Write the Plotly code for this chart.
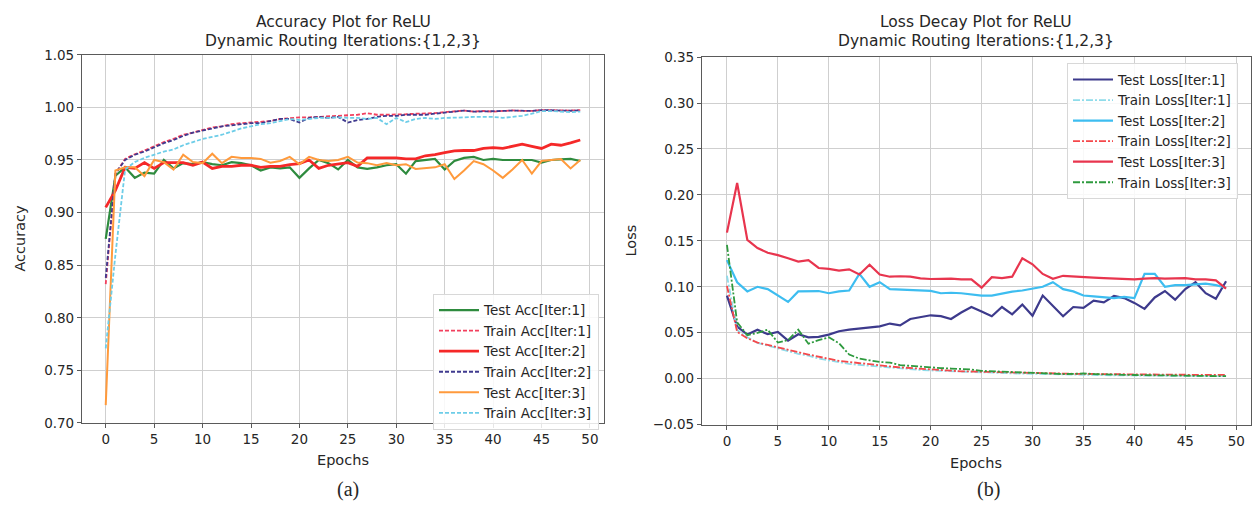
import plotly.graph_objects as go

epochs = list(range(50))

test_acc_1 = [0.875, 0.935, 0.943, 0.933, 0.938, 0.937, 0.950, 0.942, 0.947, 0.946,
              0.948, 0.946, 0.945, 0.948, 0.947, 0.945, 0.940, 0.943, 0.942, 0.943,
              0.933, 0.942, 0.950, 0.947, 0.941, 0.950, 0.943, 0.9415, 0.943, 0.945,
              0.946, 0.937, 0.949, 0.950, 0.951, 0.941, 0.949, 0.952, 0.953, 0.950,
              0.951, 0.950, 0.950, 0.9505, 0.950, 0.9475, 0.950, 0.9505, 0.951, 0.949]
train_acc_1 = [0.832, 0.937, 0.951, 0.9555, 0.959, 0.963, 0.967, 0.970, 0.974, 0.976,
               0.9785, 0.981, 0.982, 0.984, 0.985, 0.9856, 0.986, 0.987, 0.989, 0.990,
               0.9905, 0.9905, 0.991, 0.991, 0.992, 0.9925, 0.993, 0.9945, 0.993, 0.993,
               0.993, 0.9935, 0.994, 0.994, 0.9945, 0.9955, 0.9966, 0.997, 0.996, 0.9966,
               0.996, 0.9966, 0.9972, 0.9966, 0.9966, 0.9975, 0.9972, 0.9972, 0.997, 0.9975]
test_acc_2 = [0.905, 0.921, 0.943, 0.942, 0.9475, 0.942, 0.9475, 0.9475, 0.9475, 0.945,
              0.948, 0.942, 0.944, 0.944, 0.945, 0.945, 0.943, 0.944, 0.944, 0.9457,
              0.9466, 0.950, 0.942, 0.945, 0.946, 0.9475, 0.944, 0.952, 0.952, 0.952,
              0.952, 0.951, 0.951, 0.954, 0.955, 0.957, 0.9586, 0.959, 0.959, 0.961,
              0.9617, 0.961, 0.963, 0.965, 0.963, 0.961, 0.965, 0.964, 0.9663, 0.969]
train_acc_2 = [0.838, 0.937, 0.950, 0.955, 0.958, 0.962, 0.966, 0.969, 0.973, 0.976,
               0.978, 0.980, 0.982, 0.983, 0.984, 0.985, 0.985, 0.987, 0.989, 0.989,
               0.9856, 0.990, 0.991, 0.990, 0.991, 0.9856, 0.988, 0.989, 0.991, 0.992,
               0.992, 0.993, 0.993, 0.993, 0.994, 0.995, 0.996, 0.997, 0.996, 0.996,
               0.996, 0.9966, 0.997, 0.9966, 0.9966, 0.9975, 0.997, 0.997, 0.9968, 0.9972]
test_acc_3 = [0.717, 0.940, 0.943, 0.943, 0.9347, 0.950, 0.948, 0.941, 0.955, 0.948,
              0.947, 0.956, 0.947, 0.953, 0.952, 0.952, 0.951, 0.9475, 0.949, 0.953,
              0.946, 0.953, 0.950, 0.949, 0.950, 0.953, 0.9475, 0.947, 0.945, 0.947,
              0.945, 0.946, 0.9415, 0.942, 0.943, 0.946, 0.932, 0.940, 0.949, 0.946,
              0.940, 0.933, 0.941, 0.950, 0.937, 0.949, 0.950, 0.951, 0.942, 0.950]
train_acc_3 = [0.771, 0.860, 0.941, 0.948, 0.952, 0.955, 0.958, 0.960, 0.964, 0.967,
               0.970, 0.972, 0.974, 0.977, 0.980, 0.982, 0.984, 0.985, 0.987, 0.989,
               0.988, 0.989, 0.990, 0.990, 0.9905, 0.990, 0.990, 0.989, 0.990, 0.984,
               0.990, 0.986, 0.989, 0.990, 0.989, 0.990, 0.990, 0.9905, 0.991, 0.991,
               0.991, 0.990, 0.991, 0.992, 0.994, 0.9965, 0.9965, 0.996, 0.9955, 0.996]

test_loss_1 = [0.0905, 0.0568, 0.048, 0.0533, 0.0484, 0.0509, 0.0414, 0.0484, 0.045, 0.0456,
               0.048, 0.0516, 0.0533, 0.0544, 0.056, 0.057, 0.060, 0.058, 0.065, 0.0674,
               0.069, 0.068, 0.065, 0.072, 0.078, 0.073, 0.068, 0.078, 0.070, 0.0807,
               0.0684, 0.0905, 0.079, 0.068, 0.078, 0.077, 0.085, 0.083, 0.090, 0.0877,
               0.0825, 0.076, 0.0884, 0.0954, 0.086, 0.0975, 0.105, 0.093, 0.087, 0.106]
train_loss_1 = [0.112, 0.053, 0.045, 0.039, 0.036, 0.033, 0.030, 0.027, 0.025, 0.022,
                0.020, 0.018, 0.016, 0.015, 0.014, 0.013, 0.012, 0.011, 0.010, 0.0095,
                0.009, 0.0085, 0.008, 0.0075, 0.007, 0.0065, 0.0062, 0.006, 0.0058, 0.0055,
                0.0052, 0.005, 0.0048, 0.0045, 0.0043, 0.0042, 0.004, 0.0038, 0.0037, 0.0035,
                0.0034, 0.0033, 0.0032, 0.0031, 0.003, 0.003, 0.0029, 0.0028, 0.0028, 0.0027]
test_loss_2 = [0.129, 0.105, 0.095, 0.100, 0.0975, 0.0905, 0.0835, 0.095, 0.0954, 0.0954,
               0.093, 0.095, 0.096, 0.114, 0.100, 0.105, 0.0975, 0.097, 0.096, 0.0955,
               0.0955, 0.093, 0.0935, 0.093, 0.092, 0.0905, 0.0905, 0.093, 0.0947, 0.096,
               0.098, 0.100, 0.105, 0.0975, 0.095, 0.0905, 0.0895, 0.089, 0.0877, 0.089,
               0.0877, 0.114, 0.114, 0.100, 0.1018, 0.1018, 0.1025, 0.1035, 0.1018, 0.099]
train_loss_2 = [0.101, 0.051, 0.044, 0.0393, 0.0368, 0.0344, 0.0316, 0.0288, 0.0263, 0.0239,
                0.021, 0.0193, 0.0182, 0.0168, 0.0154, 0.0147, 0.0133, 0.0123, 0.0116, 0.0105,
                0.0098, 0.009, 0.0085, 0.008, 0.0078, 0.0075, 0.007, 0.0068, 0.0065, 0.0063,
                0.006, 0.0058, 0.0056, 0.0055, 0.0053, 0.0052, 0.005, 0.0049, 0.0048, 0.0047,
                0.0046, 0.0045, 0.0045, 0.0044, 0.0043, 0.0043, 0.0042, 0.0042, 0.0041, 0.0041]
test_loss_3 = [0.159, 0.213, 0.151, 0.1422, 0.137, 0.1345, 0.131, 0.1274, 0.129, 0.1205,
               0.1195, 0.1176, 0.119, 0.1134, 0.124, 0.1134, 0.111, 0.1115, 0.111, 0.1092,
               0.1085, 0.109, 0.1088, 0.108, 0.108, 0.099, 0.1105, 0.1095, 0.111, 0.131,
               0.1245, 0.114, 0.1088, 0.112, 0.1116, 0.1105, 0.110, 0.1095, 0.1088, 0.1088,
               0.108, 0.1088, 0.1095, 0.1088, 0.1088, 0.1095, 0.108, 0.108, 0.107, 0.098]
train_loss_3 = [0.1456, 0.0614, 0.0474, 0.0498, 0.0533, 0.0393, 0.042, 0.0533, 0.038, 0.042,
                0.045, 0.0386, 0.0263, 0.0218, 0.020, 0.0182, 0.0175, 0.0147, 0.014, 0.013,
                0.012, 0.0115, 0.011, 0.0105, 0.010, 0.0085, 0.008, 0.0075, 0.007, 0.0068,
                0.0065, 0.006, 0.0055, 0.005, 0.0052, 0.0058, 0.005, 0.0045, 0.004, 0.0042,
                0.004, 0.0038, 0.0035, 0.004, 0.003, 0.0028, 0.003, 0.003, 0.0028, 0.0028]

acc_ticks = [0.70, 0.75, 0.80, 0.85, 0.90, 0.95, 1.00, 1.05]
loss_ticks = [-0.05, 0.00, 0.05, 0.10, 0.15, 0.20, 0.25, 0.30, 0.35]
epoch_ticks = [0, 5, 10, 15, 20, 25, 30, 35, 40, 45, 50]

FONT = "DejaVu Sans"
TXT = "#262626"

fig = go.Figure()

acc_series = [
    ("Test Acc[Iter:1]", test_acc_1, "#2e8b3e", "solid", 2.2),
    ("Train Acc[Iter:1]", train_acc_1, "#f2405e", "4px,2px", 1.8),
    ("Test Acc[Iter:2]", test_acc_2, "#f52828", "solid", 2.8),
    ("Train Acc[Iter:2]", train_acc_2, "#3f3a8f", "4px,2px", 1.8),
    ("Test Acc[Iter:3]", test_acc_3, "#ff9a3c", "solid", 2.0),
    ("Train Acc[Iter:3]", train_acc_3, "#6dcde8", "4px,2px", 1.8),
]
for name, ys, col, dash, w in acc_series:
    fig.add_trace(go.Scatter(x=epochs, y=ys, name=name, mode="lines",
                             line=dict(color=col, dash=dash, width=w),
                             xaxis="x", yaxis="y", legend="legend"))

loss_series = [
    ("Test Loss[Iter:1]", test_loss_1, "#3d3a8c", "solid", 2.2),
    ("Train Loss[Iter:1]", train_loss_1, "#8fdcea", "7px,2px,2px,2px", 1.8),
    ("Test Loss[Iter:2]", test_loss_2, "#3dbdf0", "solid", 2.2),
    ("Train Loss[Iter:2]", train_loss_2, "#f5484b", "7px,2px,2px,2px", 1.8),
    ("Test Loss[Iter:3]", test_loss_3, "#e8354e", "solid", 2.2),
    ("Train Loss[Iter:3]", train_loss_3, "#2e9a3e", "7px,2px,2px,2px", 1.8),
]
for name, ys, col, dash, w in loss_series:
    fig.add_trace(go.Scatter(x=epochs, y=ys, name=name, mode="lines",
                             line=dict(color=col, dash=dash, width=w),
                             xaxis="x2", yaxis="y2", legend="legend2"))

W, H = 1254, 514
def px(x):
    return x / W
def py(y):
    return 1 - y / H

axis_common = dict(showgrid=True, gridcolor="#cfcfcf", gridwidth=1.3,
                   showline=True, linecolor="#5a5a5a", linewidth=1.2, mirror=True,
                   ticks="outside", ticklen=4, tickcolor="#5a5a5a", tickwidth=1,
                   zeroline=False, tickfont=dict(family=FONT, size=13.5, color=TXT))

legend_common = dict(xanchor="left", yanchor="top",
                     bgcolor="rgba(255,255,255,0.85)", bordercolor="#d8d8d8", borderwidth=1,
                     font=dict(family=FONT, size=13.5, color=TXT), itemwidth=40,
                     tracegroupgap=0)

fig.update_layout(
    width=W, height=H,
    margin=dict(l=0, r=0, t=0, b=0),
    paper_bgcolor="white", plot_bgcolor="white",
    showlegend=True,
    xaxis=dict(domain=[px(82), px(604)], range=[-2.45, 51.45], tickvals=epoch_ticks,
               anchor="y", **axis_common),
    yaxis=dict(domain=[py(428.3), py(48.3)], range=[0.70, 1.05], tickvals=acc_ticks,
               tickformat=".2f", anchor="x", **axis_common),
    xaxis2=dict(domain=[px(702), px(1251)], range=[-2.45, 51.45], tickvals=epoch_ticks,
                anchor="y2", **axis_common),
    yaxis2=dict(domain=[py(430), py(50.7)], range=[-0.05, 0.35], tickvals=loss_ticks,
                tickformat=".2f", anchor="x2", **axis_common),
    legend=dict(x=px(433), y=py(295), **legend_common),
    legend2=dict(x=px(1067), y=py(57), **legend_common),
)

def ann(x, y, text, size, family=FONT, angle=0):
    fig.add_annotation(x=px(x), y=py(y), xref="paper", yref="paper", text=text,
                       showarrow=False, xanchor="center", yanchor="middle",
                       textangle=angle, font=dict(family=family, size=size, color=TXT))

ann(343, 14, "Accuracy Plot for ReLU", 15.5)
ann(343, 34, "Dynamic Routing Iterations:{1,2,3}", 15.5)
ann(976, 14, "Loss Decay Plot for ReLU", 15.5)
ann(976, 34, "Dynamic Routing Iterations:{1,2,3}", 15.5)
ann(343, 467, "Epochs", 14.5)
ann(976, 470, "Epochs", 14.5)
ann(20, 238, "Accuracy", 14.5, angle=-90)
ann(631, 240, "Loss", 14.5, angle=-90)
ann(348, 497, "(a)", 20, family="Liberation Serif")
ann(988, 497, "(b)", 20, family="Liberation Serif")

fig.write_html("out.html")
